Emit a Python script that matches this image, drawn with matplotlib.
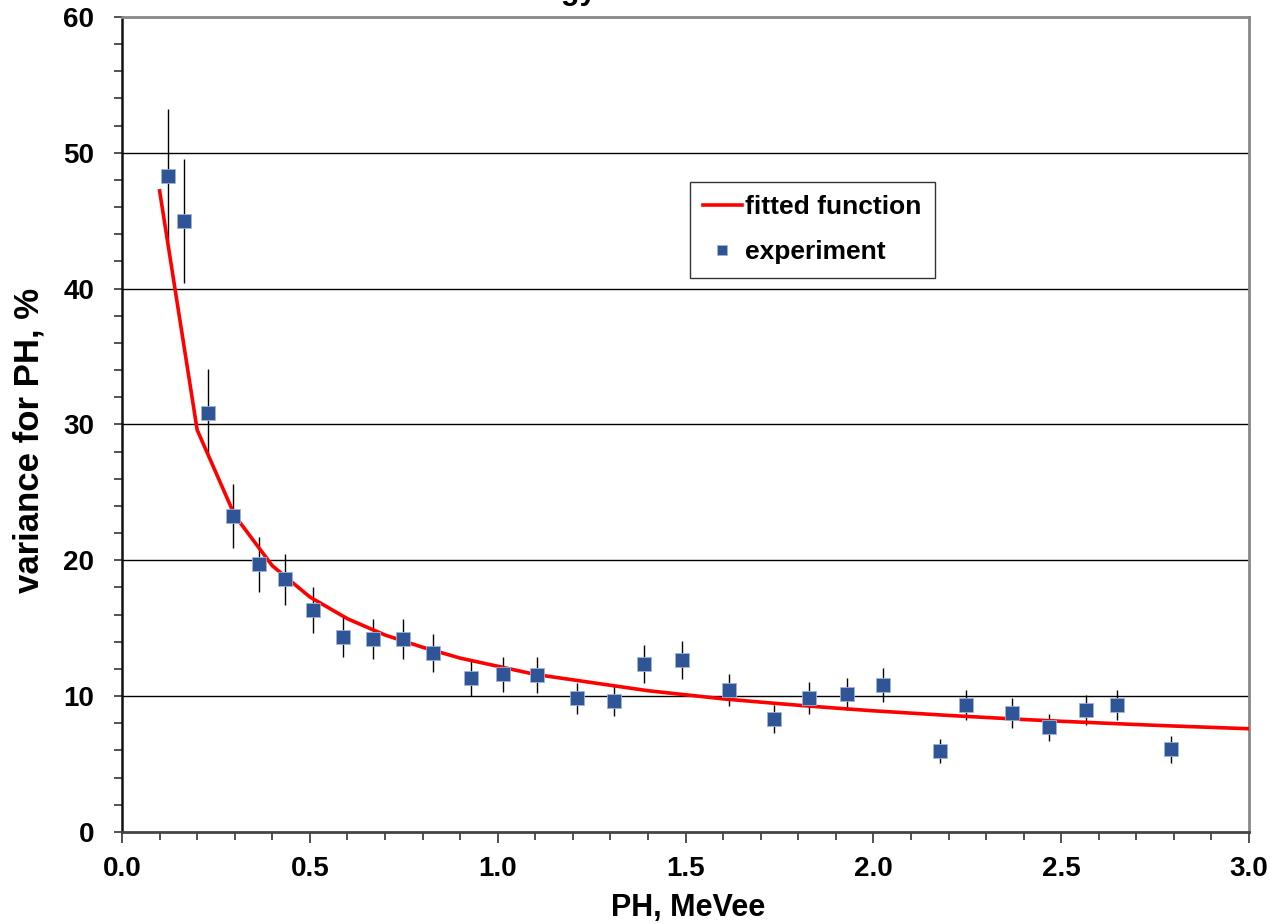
import numpy as np
import matplotlib.pyplot as plt
from matplotlib.ticker import MultipleLocator

plt.rcParams['font.family'] = ['Liberation Sans', 'DejaVu Sans']
plt.rcParams['font.weight'] = 'bold'

# experiment points
ph = [0.122, 0.165, 0.229, 0.295, 0.365, 0.434, 0.508, 0.588, 0.668, 0.748,
      0.828, 0.929, 1.014, 1.105, 1.211, 1.310, 1.389, 1.490, 1.616, 1.735,
      1.829, 1.930, 2.026, 2.177, 2.247, 2.369, 2.467, 2.566, 2.648, 2.792]
var = [48.3, 45.0, 30.85, 23.27, 19.7, 18.6, 16.35, 14.36, 14.2, 14.2,
       13.2, 11.3, 11.6, 11.55, 9.85, 9.65, 12.4, 12.65, 10.45, 8.3,
       9.85, 10.15, 10.8, 5.95, 9.35, 8.75, 7.7, 9.0, 9.35, 6.1]
err = [4.9, 4.55, 3.2, 2.35, 2.0, 1.9, 1.7, 1.5, 1.5, 1.5,
       1.4, 1.3, 1.3, 1.35, 1.15, 1.1, 1.4, 1.4, 1.2, 1.05,
       1.2, 1.2, 1.25, 0.9, 1.1, 1.1, 1.0, 1.1, 1.1, 1.0]

# fitted curve, sampled every 0.1 MeVee
fit_x = [0.1, 0.2, 0.3, 0.4, 0.5, 0.6, 0.7, 0.8, 0.9, 1.0,
         1.1, 1.2, 1.3, 1.4, 1.5, 1.6, 1.7, 1.8, 1.9, 2.0,
         2.1, 2.2, 2.3, 2.4, 2.5, 2.6, 2.7, 2.8, 2.9, 3.0]
fit_y = [47.2, 29.6, 23.3, 19.6, 17.3, 15.7, 14.5, 13.6, 12.8, 12.2,
         11.6, 11.2, 10.8, 10.4, 10.1, 9.8, 9.56, 9.33, 9.12, 8.92,
         8.75, 8.58, 8.43, 8.28, 8.15, 8.03, 7.91, 7.80, 7.70, 7.60]

fig = plt.figure(figsize=(12.7, 9.24), dpi=100)
ax = fig.add_axes([0.0961, 0.0996, 0.8874, 0.882])

for yy in [10, 20, 30, 40, 50]:
    ax.axhline(yy, color='black', lw=1.0, zorder=1)

ax.plot(fit_x, fit_y, color='#ff0000', lw=2.6, label='fitted function', zorder=3)
ax.errorbar(ph, var, yerr=err, fmt='none', ecolor='black', elinewidth=1.0, capsize=0, zorder=2)
ax.plot(ph, var, ls='none', marker='s', ms=10.5, color='#2f5597',
        mec='#9db3dc', mew=0.6, label='experiment', zorder=4)

ax.set_xlim(0, 3.0)
ax.set_ylim(0, 60)
ax.xaxis.set_major_locator(MultipleLocator(0.5))
ax.xaxis.set_minor_locator(MultipleLocator(0.1))
ax.yaxis.set_major_locator(MultipleLocator(10))
ax.yaxis.set_minor_locator(MultipleLocator(2))
ax.xaxis.set_major_formatter(plt.FuncFormatter(lambda v, p: f'{v:.1f}'))
ax.tick_params(axis='both', which='both', direction='out', length=6, width=1.2,
               labelsize=20, color='#333333')
ax.tick_params(axis='x', which='major', length=8, pad=9)
ax.tick_params(axis='y', which='major', pad=14)

for s in ['top', 'right']:
    ax.spines[s].set_color('#888888')
    ax.spines[s].set_linewidth(2)
ax.spines['left'].set_color('#111111')
ax.spines['left'].set_linewidth(1.8)
ax.spines['bottom'].set_color('#444444')
ax.spines['bottom'].set_linewidth(2)

ax.set_xlabel('PH, MeVee', fontsize=22, fontweight='bold')
ax.xaxis.set_label_coords(0.502, -0.0746)
ax.set_ylabel('variance for PH, %', fontsize=25, fontweight='bold')
ax.yaxis.set_label_coords(-0.068, 0.481)

leg = ax.legend(loc='upper left', bbox_to_anchor=(0.504, 0.7975), fontsize=19,
                frameon=True, fancybox=False, edgecolor='black', handlelength=1.45,
                handletextpad=0.15, borderpad=0.5, labelspacing=0.8, markerscale=0.75,
                borderaxespad=0)
leg.get_frame().set_linewidth(1.0)

fig.text(0.49, 1.001, 'Energy resolution', fontsize=22, fontweight='bold', va='baseline', ha='center')

fig.savefig('out.png', dpi=100)
